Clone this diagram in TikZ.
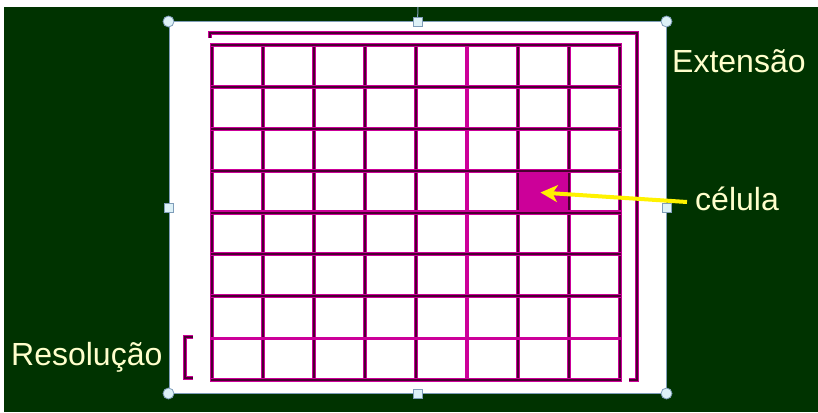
\documentclass[tikz,border=0pt]{standalone}
\usepackage{fontspec}
\setmainfont{Liberation Sans}
\usetikzlibrary{positioning,arrows.meta,calc}
\definecolor{board}{HTML}{003300}
\definecolor{mag}{HTML}{CC0099}
\definecolor{plum}{HTML}{4A0030}
\definecolor{cream}{HTML}{FFFFCC}
\definecolor{frameline}{HTML}{7F9DB9}
\definecolor{handle}{HTML}{DDF1F7}
\tikzset{
  gridln/.style  ={draw=mag, double=plum, double distance=2pt, line width=1.1pt, line cap=rect},
  softln/.style  ={draw=mag, line width=3.2pt, line cap=rect},
  lbl/.style     ={text=cream, font=\fontsize{32}{36}\selectfont, inner sep=0pt},
  cornerh/.style ={circle, draw=frameline, fill=handle, line width=0.8pt, minimum size=11pt, inner sep=0pt},
  sideh/.style   ={rectangle, draw=frameline, fill=handle, line width=0.8pt, minimum size=9pt, inner sep=0pt},
  pointer/.style ={-{Stealth[length=17pt,width=17pt,inset=5pt]}, draw=yellow, line width=4pt},
}
\begin{document}
\begin{tikzpicture}[x=1pt,y=-1pt]
\useasboundingbox (0,0) rectangle (818,412);
% board
\fill[board] (4,7) rectangle (818,412);
\node[draw=frameline, fill=white, line width=1pt, minimum width=497pt, minimum height=371pt, inner sep=0pt] (sheet) at (417.5,207.5) {};
% cell
\node[fill=mag, minimum width=51pt, minimum height=41.9pt, inner sep=0pt] (cel) at (543.5,191.5) {};
% grid
\foreach \i in {0,...,8} {
  \pgfmathsetmacro{\gx}{212+\i*51}
  \ifnum\i=5 \draw[softln] (\gx,45) -- (\gx,380);
  \else \draw[gridln] (\gx,45) -- (\gx,380); \fi
}
\foreach \j in {0,...,8} {
  \pgfmathsetmacro{\gy}{45+\j*41.875}
  \ifnum\j=7 \draw[softln] (212,\gy) -- (620,\gy);
  \else \draw[gridln] (212,\gy) -- (620,\gy); \fi
}
% brackets
\coordinate (e1) at (210,38);
\coordinate (e2) at (210,33);
\coordinate (e3) at (637,33);
\coordinate (e4) at (637,380);
\coordinate (e5) at (629,380);
\draw[gridln, line cap=butt] (e1) -- (e2) -- (e3) -- (e4) -- (e5);
\coordinate (r1) at (193,337);
\coordinate (r2) at (185,337);
\coordinate (r3) at (185,378);
\coordinate (r4) at (193,378);
\draw[gridln, line cap=butt] (r1) -- (r2) -- (r3) -- (r4);
% handles
\coordinate (rot) at (418,7);
\draw[frameline, line width=1pt] (rot) -- (sheet.north);
\foreach \a in {north west,north east,south west,south east} { \node[cornerh] at (sheet.\a) {}; }
\foreach \a in {north,south,west,east} { \node[sideh] at (sheet.\a) {}; }
% labels
\node[lbl, anchor=base west] (ext) at (672,72) {Extensão};
\node[lbl, anchor=base west] (celtxt) at (695,210) {célula};
\node[lbl, anchor=base west] (res) at (11,365) {Resolução};
\draw[pointer] ($(celtxt.base west)+(-8,-8)$) -- ($(cel.center)+(-3,1)$);
\end{tikzpicture}
\end{document}
